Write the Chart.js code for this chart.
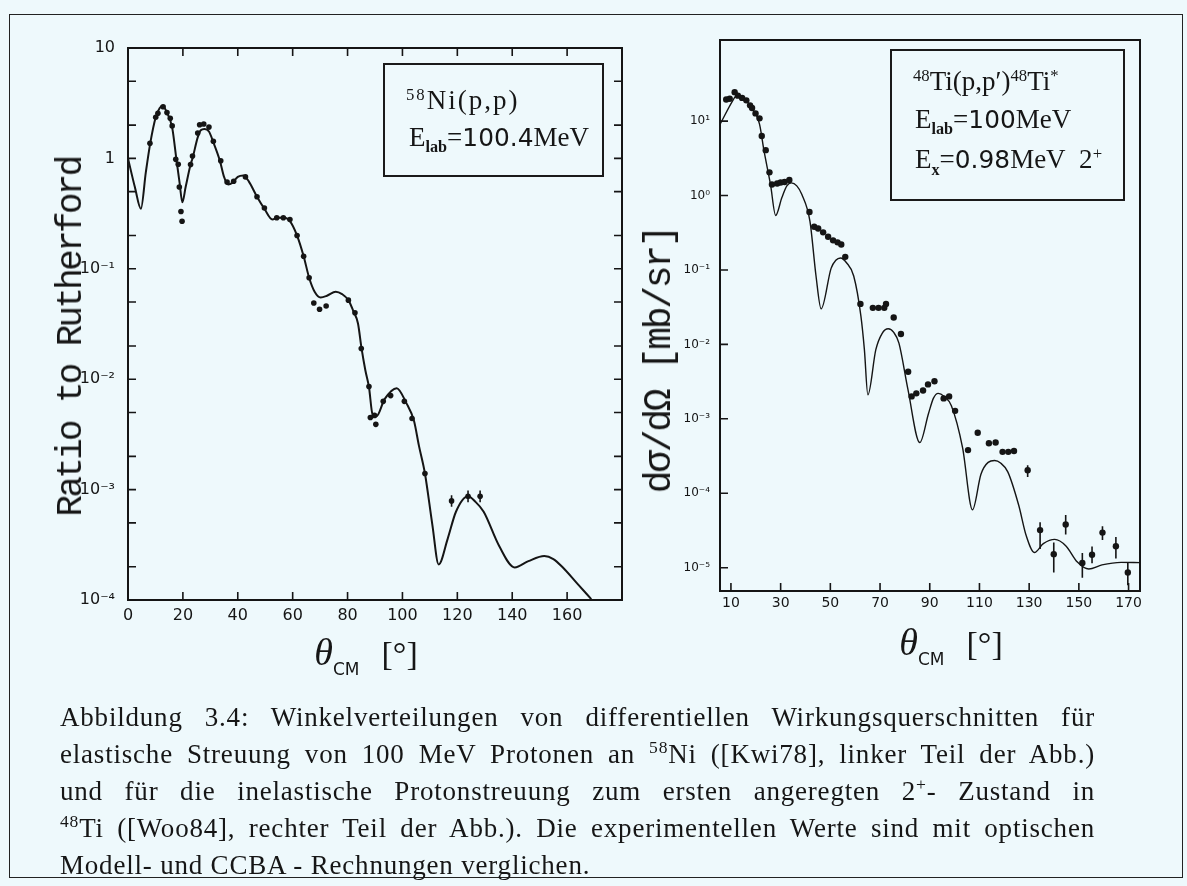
<!DOCTYPE html>
<html>
<head>
<meta charset="utf-8">
<script src="https://cdn.jsdelivr.net/npm/chart.js@4.4.1/dist/chart.umd.min.js"></script>
<style>
  body { margin: 0; width: 1187px; height: 886px; overflow: hidden; position: relative;
         background: #eef9fc; color: #161616; font-family: "Liberation Serif", serif; }
  canvas { position: absolute; top: 0; }
  #c1 { left: 0; }
  #c2 { left: 600px; }
  .frame { position: absolute; left: 9px; top: 14px; width: 1172px; height: 862px; border: 1.5px solid #222; }
  .box { position: absolute; border: 2px solid #1a1a1a; }
  .ln { position: absolute; font-size: 27px; line-height: 1; white-space: nowrap; }
  .ln sub { font-size: 0.6em; vertical-align: -0.4em; font-weight: bold; }
  .ln sup { font-size: 0.62em; vertical-align: 0.55em; }
  .sans { font-family: "DejaVu Sans", sans-serif; font-size: 0.92em; }
  .ytitle { position: absolute; font-family: "Liberation Mono", monospace; white-space: nowrap;
            line-height: 1; transform: translate(-50%, -50%) rotate(-90deg); }
  .xtitle { position: absolute; white-space: nowrap; line-height: 1; transform: translateX(-50%); }
  .xtitle i { font-size: 38px; }
  .xtitle sub { font-size: 17px; font-family: "DejaVu Sans", sans-serif; vertical-align: -0.6em; margin-right: 22px; }
  .xtitle span { font-size: 34px; }
  #caption { position: absolute; left: 60px; top: 699px; width: 1035px; font-size: 27px; line-height: 37px; letter-spacing: 0.8px; }
  #caption div { text-align: justify; text-align-last: justify; white-space: nowrap; }
  #caption div.last { text-align: left; text-align-last: left; }
  #caption sup { font-size: 0.65em; line-height: 0; }
</style>
</head>
<body>
<div class="frame"></div>
<canvas id="c1" width="650" height="700"></canvas>
<canvas id="c2" width="587" height="700"></canvas>

<div class="box" style="left:383px;top:63px;width:217px;height:110px"></div>
<div class="ln" style="left:406px;top:87px;letter-spacing:2px"><sup>58</sup>Ni(p,p)</div>
<div class="ln" style="left:409px;top:124px">E<sub>lab</sub>=<span class="sans">100.4</span>MeV</div>

<div class="box" style="left:890px;top:49px;width:231px;height:148px"></div>
<div class="ln" style="left:913px;top:68px"><sup>48</sup>Ti(p,p′)<sup>48</sup>Ti<sup>*</sup></div>
<div class="ln" style="left:915px;top:106px">E<sub>lab</sub>=<span class="sans">100</span>MeV</div>
<div class="ln" style="left:915px;top:146px">E<sub>x</sub>=<span class="sans">0.98</span>MeV&nbsp; 2<sup>+</sup></div>

<div class="ytitle" style="left:72px;top:337px;font-size:36px;letter-spacing:-2.7px">Ratio to Rutherford</div>
<div class="ytitle" style="left:660px;top:360px;font-size:38px;letter-spacing:-2.3px">dσ/dΩ [mb/sr]</div>

<div class="xtitle" style="left:366px;top:633px"><i>θ</i><sub>CM</sub><span>[°]</span></div>
<div class="xtitle" style="left:951px;top:623px"><i>θ</i><sub>CM</sub><span>[°]</span></div>

<div id="caption">
  <div>Abbildung 3.4: Winkelverteilungen von differentiellen Wirkungsquerschnitten für</div>
  <div>elastische Streuung von 100 MeV Protonen an <sup>58</sup>Ni ([Kwi78], linker Teil der Abb.)</div>
  <div>und für die inelastische Protonstreuung zum ersten angeregten 2<sup>+</sup>- Zustand in</div>
  <div><sup>48</sup>Ti ([Woo84], rechter Teil der Abb.). Die experimentellen Werte sind mit optischen</div>
  <div class="last">Modell- und CCBA - Rechnungen verglichen.</div>
</div>

<script>
// 58Ni(p,p) 100.4 MeV, Verhaeltnis zu Rutherford
const niCurveAngle = [0, 2.5, 4.7, 6.5, 8.1, 10.1, 11.5, 12.6, 14.2, 16.1, 17.6, 18.8, 19.8, 21, 22.8, 23.5, 25.4, 26.5, 27.9, 29.5, 31.1, 33.5, 35, 36.5, 38, 40, 42, 44, 47, 49.7, 52.6, 54.5, 57, 59, 61.6, 64, 66, 68, 70.2, 72.5, 75.7, 78, 80.3, 82, 83.8, 85.1, 86.5, 87.8, 89.1, 90.5, 93.5, 97.9, 101.4, 104.2, 106, 108.2, 110.9, 113.2, 116.5, 119.5, 123.9, 126.5, 129.6, 135.2, 140.9, 145.9, 151.7, 155, 158.2, 163.8, 168.8];
const niCurveRatio = [1.0, 0.55, 0.35, 0.75, 1.37, 2.36, 2.85, 3.0, 2.6, 1.9, 1.0, 0.6, 0.40, 0.55, 0.88, 1.0, 1.55, 1.8, 1.85, 1.75, 1.4, 0.95, 0.68, 0.58, 0.6, 0.68, 0.70, 0.62, 0.45, 0.35, 0.28, 0.29, 0.29, 0.27, 0.20, 0.13, 0.083, 0.062, 0.055, 0.057, 0.062, 0.059, 0.052, 0.042, 0.032, 0.019, 0.012, 0.0085, 0.0048, 0.0046, 0.0066, 0.0083, 0.0061, 0.0042, 0.0025, 0.0014, 4.8e-4, 2.1e-4, 3.6e-4, 6.3e-4, 8.7e-4, 7.8e-4, 6.3e-4, 3.1e-4, 1.97e-4, 2.25e-4, 2.5e-4, 2.35e-4, 2.0e-4, 1.4e-4, 1.02e-4];

const niDataAngle = [8.0, 10.1, 10.9, 12.8, 14.2, 15.4, 16.1, 17.4, 18.3, 18.7, 19.3, 19.7, 22.8, 23.5, 25.4, 26.1, 27.6, 29.5, 31.1, 33.8, 36.1, 38.5, 42.8, 47.0, 49.7, 54.2, 56.6, 59.0, 61.6, 64.0, 66.0, 67.7, 69.8, 72.2, 80.3, 82.7, 85.0, 87.8, 88.3, 89.8, 90.3, 93.0, 95.7, 100.7, 103.5, 108.2, 117.9, 123.9, 128.3];
const niDataRatio = [1.37, 2.36, 2.56, 2.94, 2.6, 2.31, 1.97, 0.98, 0.885, 0.55, 0.33, 0.27, 0.88, 1.05, 1.70, 2.02, 2.05, 1.92, 1.43, 0.95, 0.61, 0.62, 0.68, 0.45, 0.355, 0.29, 0.29, 0.28, 0.20, 0.13, 0.083, 0.049, 0.043, 0.046, 0.052, 0.040, 0.019, 0.0086, 0.0045, 0.0047, 0.0039, 0.0063, 0.0071, 0.0063, 0.0044, 0.0014, 7.9e-4, 8.7e-4, 8.7e-4];
const niErrAngle = [117.9, 123.9, 128.3];
const niErrLow = [7.0e-4, 7.7e-4, 7.7e-4];
const niErrHigh = [8.9e-4, 9.8e-4, 9.8e-4];

const niXTicks = [0, 20, 40, 60, 80, 100, 120, 140, 160, 180];
const niYTicks = [1e-4, 2e-4, 5e-4, 1e-3, 2e-3, 5e-3, 1e-2, 2e-2, 5e-2, 0.1, 0.2, 0.5, 1, 2, 5, 10];
const niYLabels = { 10: '10', 1: '1', 0.1: '10⁻¹', 0.01: '10⁻²', 0.001: '10⁻³', 0.0001: '10⁻⁴' };

// 48Ti(p,p') 2+ 0.98 MeV, mb/sr
const tiCurveAngle = [5.8, 10.8, 12.2, 14.5, 18.1, 21.5, 23.3, 25.9, 28.0, 30.5, 32.5, 34.3, 36.5, 38.5, 41.8, 44.2, 46.3, 50.3, 52.2, 54.1, 56.5, 59.4, 62.3, 63.7, 65.1, 68.3, 70.8, 73.3, 75.5, 77.6, 81.2, 86.0, 89.5, 91.5, 93.4, 95.8, 98.7, 103.2, 107.2, 110.6, 113.5, 116.1, 118.5, 121.4, 125.8, 128.8, 132.1, 135.7, 140.3, 144.8, 149.4, 154.0, 159.3, 167.0, 174.6];
const tiCurveXs = [9.3, 19, 22, 21, 15.5, 9.1, 4.0, 1.42, 0.54, 0.94, 1.35, 1.48, 1.35, 1.04, 0.45, 0.085, 0.030, 0.105, 0.135, 0.145, 0.125, 0.083, 0.024, 0.0085, 0.0021, 0.0085, 0.0140, 0.0162, 0.0145, 0.0104, 0.0025, 4.8e-4, 0.00118, 0.0019, 0.0022, 0.0020, 0.0015, 4.1e-4, 6.0e-5, 1.8e-4, 2.6e-4, 2.75e-4, 2.55e-4, 1.94e-4, 6.9e-5, 2.7e-5, 1.6e-5, 2.1e-5, 2.4e-5, 1.96e-5, 1.19e-5, 9.6e-6, 1.09e-5, 1.18e-5, 1.17e-5];

const tiDataAngle = [8.1, 9.5, 11.5, 12.8, 14.5, 16.2, 17.7, 18.5, 19.9, 21.5, 22.4, 24.0, 25.5, 26.5, 28.6, 30.0, 31.6, 33.5, 41.6, 43.5, 45.1, 47.1, 49.1, 51.1, 52.9, 54.4, 56.0, 62.1, 67.1, 69.4, 71.7, 72.4, 75.5, 78.4, 81.3, 82.7, 84.6, 87.3, 89.3, 91.9, 95.6, 97.8, 100.2, 105.4, 109.3, 113.8, 116.5, 119.3, 121.6, 123.9, 129.4, 134.4, 139.9, 144.7, 151.4, 155.3, 159.5, 164.9, 169.7];
const tiDataXs = [19.5, 20, 24.5, 22, 20.5, 19, 16.3, 15, 12.7, 10.9, 6.3, 4.07, 2.05, 1.41, 1.45, 1.5, 1.52, 1.62, 0.60, 0.38, 0.36, 0.32, 0.28, 0.25, 0.235, 0.22, 0.15, 0.035, 0.031, 0.031, 0.031, 0.035, 0.023, 0.0138, 0.0043, 0.0020, 0.0022, 0.0024, 0.0029, 0.0032, 0.00188, 0.0020, 0.00128, 3.8e-4, 6.5e-4, 4.7e-4, 4.8e-4, 3.6e-4, 3.6e-4, 3.7e-4, 2.04e-4, 3.2e-5, 1.52e-5, 3.81e-5, 1.16e-5, 1.49e-5, 2.96e-5, 1.94e-5, 8.6e-6];
const tiErrAngle = [129.4, 134.4, 139.9, 144.7, 151.4, 155.3, 159.5, 164.9, 169.7];
const tiErrLow = [1.65e-4, 1.78e-5, 8.6e-6, 2.8e-5, 7.3e-6, 1.15e-5, 2.36e-5, 1.33e-5, 5.8e-6];
const tiErrHigh = [2.37e-4, 4.07e-5, 2.18e-5, 5.1e-5, 1.57e-5, 1.93e-5, 3.6e-5, 2.59e-5, 1.19e-5];

const tiXTicks = [10, 30, 50, 70, 90, 110, 130, 150, 170];
const tiYTicks = [1e-5, 1e-4, 1e-3, 1e-2, 0.1, 1, 10];
const tiYLabels = { 10: '10¹', 1: '10⁰', 0.1: '10⁻¹', 0.01: '10⁻²', 0.001: '10⁻³', 0.0001: '10⁻⁴', 0.00001: '10⁻⁵' };

const ink = '#151515';

function pts(xs, ys) {
  return xs.map((x, i) => ({ x: x, y: ys[i] }));
}
// Fehlerbalken: je zwei Punkte, dann eine Luecke
function bars(xs, lo, hi) {
  const out = [];
  xs.forEach((x, i) => {
    out.push({ x: x, y: lo[i] }, { x: x, y: hi[i] }, { x: x, y: null });
  });
  return out;
}

// Rahmen und nach innen zeigende Striche
const frameTicks = {
  id: 'frameTicks',
  afterDraw(chart, args, o) {
    const { ctx, chartArea: a } = chart;
    const x = chart.scales.x, y = chart.scales.y;
    ctx.save();
    ctx.strokeStyle = ink;
    ctx.lineWidth = o.frame;
    ctx.strokeRect(a.left, a.top, a.right - a.left, a.bottom - a.top);
    ctx.lineWidth = o.tickWidth;
    ctx.beginPath();
    x.ticks.forEach(t => {
      const px = x.getPixelForValue(t.value);
      ctx.moveTo(px, a.bottom); ctx.lineTo(px, a.bottom - o.len);
      if (o.top) { ctx.moveTo(px, a.top); ctx.lineTo(px, a.top + o.len); }
    });
    y.ticks.forEach(t => {
      const py = y.getPixelForValue(t.value);
      ctx.moveTo(a.left, py); ctx.lineTo(a.left + o.len, py);
      if (o.right) { ctx.moveTo(a.right, py); ctx.lineTo(a.right - o.len, py); }
    });
    ctx.stroke();
    ctx.restore();
  }
};

function makeChart(id, cfg) {
  return new Chart(document.getElementById(id), {
    type: 'scatter',
    data: {
      datasets: [
        { data: pts(cfg.curveX, cfg.curveY), showLine: true, pointRadius: 0, borderColor: ink,
          borderWidth: cfg.lineWidth, cubicInterpolationMode: 'monotone', fill: false },
        { data: pts(cfg.dotX, cfg.dotY), pointRadius: cfg.dotRadius, pointBackgroundColor: ink,
          pointBorderColor: ink, pointBorderWidth: 0 },
        { data: bars(cfg.errX, cfg.errLo, cfg.errHi), showLine: true, pointRadius: 0,
          borderColor: ink, borderWidth: 1.6, spanGaps: false }
      ]
    },
    options: {
      responsive: false,
      animation: false,
      layout: { padding: cfg.padding },
      plugins: { legend: { display: false }, tooltip: { enabled: false },
                 frameTicks: { frame: 2, tickWidth: 1.6, len: 8, top: cfg.topTicks, right: cfg.rightTicks } },
      scales: {
        x: {
          type: 'linear', min: cfg.xMin, max: cfg.xMax,
          afterBuildTicks: s => { s.ticks = cfg.xTicks.map(v => ({ value: v })); },
          afterFit: s => { s.height = cfg.xAxisHeight; },
          grid: { display: false, drawTicks: false },
          border: { display: false },
          ticks: { padding: cfg.xPad, color: ink, font: { family: 'DejaVu Sans', size: cfg.xFont },
                   maxRotation: 0, autoSkip: false,
                   callback: v => (v === cfg.xHide ? '' : String(v)) }
        },
        y: {
          type: 'logarithmic', min: cfg.yMin, max: cfg.yMax,
          afterBuildTicks: s => { s.ticks = cfg.yTicks.map(v => ({ value: v })); },
          afterFit: s => { s.width = cfg.yAxisWidth; },
          grid: { display: false, drawTicks: false },
          border: { display: false },
          ticks: { padding: cfg.yPad, color: ink, font: { family: 'DejaVu Sans', size: cfg.yFont },
                   autoSkip: false,
                   callback: v => (cfg.yLabels[v] !== undefined ? cfg.yLabels[v] : '') }
        }
      }
    },
    plugins: [frameTicks]
  });
}

makeChart('c1', {
  curveX: niCurveAngle, curveY: niCurveRatio, dotX: niDataAngle, dotY: niDataRatio,
  errX: niErrAngle, errLo: niErrLow, errHi: niErrHigh,
  lineWidth: 2, dotRadius: 2.8,
  padding: { top: 48, right: 28, left: 0, bottom: 0 },
  xMin: 0, xMax: 180, xTicks: niXTicks, xHide: 180, xAxisHeight: 100, xPad: 6, xFont: 16,
  yMin: 1e-4, yMax: 10, yTicks: niYTicks, yLabels: niYLabels, yAxisWidth: 128, yPad: 13, yFont: 16,
  topTicks: true, rightTicks: true
});

makeChart('c2', {
  curveX: tiCurveAngle, curveY: tiCurveXs, dotX: tiDataAngle, dotY: tiDataXs,
  errX: tiErrAngle, errLo: tiErrLow, errHi: tiErrHigh,
  lineWidth: 1.4, dotRadius: 3.2,
  padding: { top: 40, right: 47, left: 0, bottom: 0 },
  xMin: 5.6, xMax: 174.6, xTicks: tiXTicks, xHide: null, xAxisHeight: 109, xPad: 4, xFont: 14,
  yMin: 4.86e-6, yMax: 123, yTicks: tiYTicks, yLabels: tiYLabels, yAxisWidth: 120, yPad: 10, yFont: 12,
  topTicks: false, rightTicks: false
});
</script>
</body>
</html>
